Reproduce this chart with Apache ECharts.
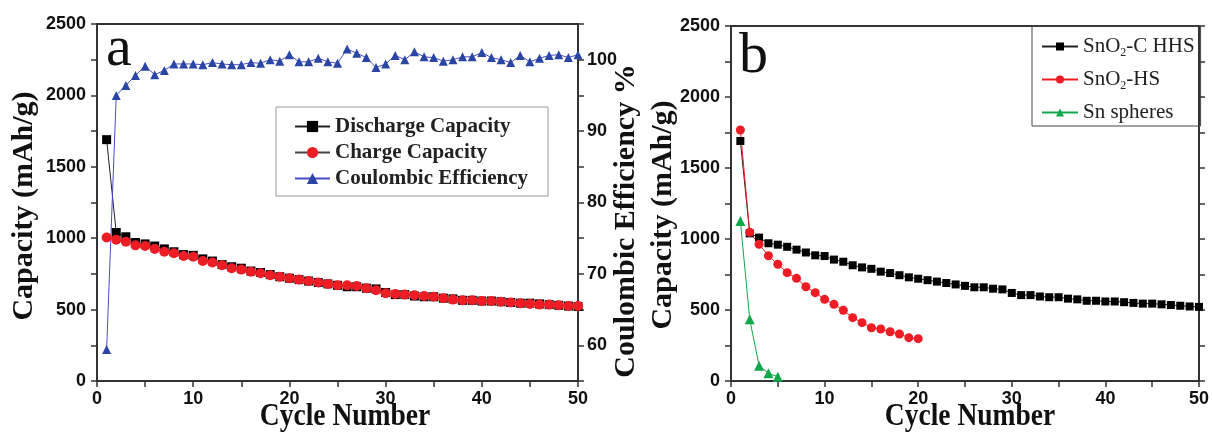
<!DOCTYPE html>
<html>
<head>
<meta charset="utf-8">
<script src="https://cdn.jsdelivr.net/npm/echarts@6/dist/echarts.min.js"></script>
<style>
  html, body { margin: 0; padding: 0; background: #fff; }
  #chart { width: 1212px; height: 433px; }
</style>
</head>
<body>
<div id="chart"></div>
<script>
// cycle index
var cycles = [1,2,3,4,5,6,7,8,9,10,11,12,13,14,15,16,17,18,19,20,21,22,23,24,25,
  26,27,28,29,30,31,32,33,34,35,36,37,38,39,40,41,42,43,44,45,46,47,48,49,50]

// panel a (and black series of panel b), mAh/g
var discharge = [1690,1040,1010,970,960,945,925,905,885,880,855,840,815,800,790,770,760,745,730,720,
  710,700,690,680,670,660,660,650,645,620,605,605,595,590,590,580,575,565,565,560,
  560,555,550,545,545,540,535,530,525,522]
var charge = [1005,990,975,950,945,925,905,895,875,870,840,830,810,790,780,765,755,740,730,720,
  710,700,690,680,670,670,665,650,635,615,610,605,600,595,590,580,570,565,565,560,
  560,555,550,545,540,535,535,530,525,525]
// coulombic efficiency, %
var efficiency = [59.4,95.0,96.4,97.8,99.1,97.9,98.5,99.4,99.4,99.4,99.3,99.6,99.4,99.3,99.3,99.6,99.5,100.0,99.8,100.7,
  99.7,99.7,100.2,99.7,99.5,101.5,100.9,100.3,98.9,99.4,100.6,100.0,101.1,100.4,100.3,99.8,100.0,100.4,100.4,101.0,
  100.3,100.0,99.6,100.6,99.7,100.2,100.6,100.7,100.3,100.7]

// panel b
var sno2HS = [1768,1047,963,882,822,763,723,664,622,575,540,498,446,411,375,366,347,331,305,298]
var snSpheres = [1127,434,108,54,30]

function pairs(vals) {
  return vals.map(function (v, i) { return [cycles[i], v] })
}

var serif = 'Liberation Serif, Times New Roman, serif'
var sans = 'Liberation Sans, Arial, sans-serif'
var axisCol = '#333'

function xAx(grid) {
  return {
    type: 'value', gridIndex: grid, min: 0, max: 50, interval: 5,
    axisLine: { onZero: false, lineStyle: { color: axisCol, width: 2 } },
    axisTick: { length: 6, lineStyle: { color: axisCol, width: 1.5 } },
    splitLine: { show: false },
    axisLabel: {
      margin: 9, color: '#111', fontFamily: sans, fontWeight: 'bold', fontSize: 18,
      formatter: function (v) { return v % 10 === 0 ? String(v) : '' }
    }
  }
}
function capAx(grid, pos, labels) {
  return {
    type: 'value', gridIndex: grid, position: pos, min: 0, max: 2500, interval: 250,
    axisLine: { show: true, lineStyle: { color: axisCol, width: 2 } },
    axisTick: { show: true, length: 6, lineStyle: { color: axisCol, width: 1.5 } },
    splitLine: { show: false },
    axisLabel: {
      show: labels, margin: 11, color: '#111', fontFamily: sans, fontWeight: 'bold', fontSize: 18,
      formatter: function (v) { return v % 500 === 0 ? String(v) : '' }
    }
  }
}

var legendRich = {
  n: { fontFamily: serif, fontSize: 21, color: '#222' },
  s: { fontFamily: serif, fontSize: 12, color: '#222', padding: [13, 0, 0, 0] }
}

var option = {
  animation: false,
  backgroundColor: '#fff',
  grid: [
    { left: 97, right: 634, top: 24, bottom: 52, show: true, borderColor: axisCol, borderWidth: 2 },
    { left: 731, right: 9, top: 26, bottom: 52, show: true, borderColor: axisCol, borderWidth: 2 }
  ],
  xAxis: [xAx(0), xAx(1)],
  yAxis: [
    capAx(0, 'left', true),
    {
      type: 'value', gridIndex: 0, position: 'right', min: 55, max: 105, interval: 5,
      axisLine: { show: true, lineStyle: { color: axisCol, width: 2 } },
      axisTick: { show: true, length: 6, lineStyle: { color: axisCol, width: 1.5 } },
      splitLine: { show: false },
      axisLabel: {
        margin: 9, color: '#111', fontFamily: sans, fontWeight: 'bold', fontSize: 18,
        formatter: function (v) { return v % 10 === 0 ? String(v) : '' }
      }
    },
    capAx(1, 'left', true),
    capAx(1, 'right', false)
  ],
  legend: [
    {
      left: 276, top: 107, orient: 'vertical', itemWidth: 35, itemHeight: 14, itemGap: 5,
      padding: [9, 20, 7, 18], borderColor: '#999', borderWidth: 1,
      textStyle: { fontFamily: serif, fontWeight: 'bold', fontSize: 21, color: '#222' },
      data: ['Discharge Capacity', 'Charge Capacity', 'Coulombic Efficiency']
    },
    {
      left: 1032, top: 26, orient: 'vertical', itemWidth: 36, itemHeight: 10, itemGap: 10,
      padding: [10, 6, 3, 9], borderColor: '#444', borderWidth: 1,
      data: ['SnO2-C HHS', 'SnO2-HS', 'Sn spheres'],
      textStyle: { rich: legendRich },
      formatter: function (name) {
        if (name.indexOf('SnO2') === 0) return '{n|SnO}{s|2}{n|' + name.slice(4) + '}'
        return '{n|' + name + '}'
      }
    }
  ],
  graphic: [
    { type: 'text', left: 106, top: 21, style: { text: 'a', font: '58px ' + serif, fill: '#111' } },
    { type: 'text', left: 739, top: 28, style: { text: 'b', font: '58px ' + serif, fill: '#111' } },
    { type: 'text', x: 345, y: 417, scaleX: 0.86,
      style: { text: 'Cycle Number', font: 'bold 32px ' + serif, fill: '#111', align: 'center', verticalAlign: 'middle' } },
    { type: 'text', x: 970, y: 417, scaleX: 0.86,
      style: { text: 'Cycle Number', font: 'bold 32px ' + serif, fill: '#111', align: 'center', verticalAlign: 'middle' } },
    { type: 'text', x: 24, y: 206, rotation: Math.PI / 2,
      style: { text: 'Capacity (mAh/g)', font: 'bold 30px ' + serif, fill: '#111', align: 'center', verticalAlign: 'middle' } },
    { type: 'text', x: 626, y: 221, rotation: Math.PI / 2,
      style: { text: 'Coulombic Efficiency %', font: 'bold 30px ' + serif, fill: '#111', align: 'center', verticalAlign: 'middle' } },
    { type: 'text', x: 663, y: 215, rotation: Math.PI / 2,
      style: { text: 'Capacity (mAh/g)', font: 'bold 30px ' + serif, fill: '#111', align: 'center', verticalAlign: 'middle' } }
  ],
  series: [
    {
      name: 'Discharge Capacity', type: 'line', xAxisIndex: 0, yAxisIndex: 0,
      data: pairs(discharge), symbol: 'rect', symbolSize: 9,
      itemStyle: { color: '#000' }, lineStyle: { color: '#222', width: 1 }
    },
    {
      name: 'Charge Capacity', type: 'line', xAxisIndex: 0, yAxisIndex: 0,
      data: pairs(charge), symbol: 'circle', symbolSize: 10,
      itemStyle: { color: '#ee1c24' }, lineStyle: { color: '#444', width: 1 }
    },
    {
      name: 'Coulombic Efficiency', type: 'line', xAxisIndex: 0, yAxisIndex: 1,
      data: pairs(efficiency), symbol: 'triangle', symbolSize: 9,
      itemStyle: { color: '#2b45a5' }, lineStyle: { color: '#4a4ac4', width: 1 }
    },
    {
      name: 'SnO2-C HHS', type: 'line', xAxisIndex: 1, yAxisIndex: 2,
      data: pairs(discharge), symbol: 'rect', symbolSize: 8,
      itemStyle: { color: '#000' }, lineStyle: { color: '#222', width: 1 }
    },
    {
      name: 'SnO2-HS', type: 'line', xAxisIndex: 1, yAxisIndex: 2,
      data: pairs(sno2HS), symbol: 'circle', symbolSize: 9,
      itemStyle: { color: '#ee1c24' }, lineStyle: { color: '#ee1c24', width: 1 }
    },
    {
      name: 'Sn spheres', type: 'line', xAxisIndex: 1, yAxisIndex: 2,
      data: pairs(snSpheres), symbol: 'triangle', symbolSize: 10,
      itemStyle: { color: '#10a84a' }, lineStyle: { color: '#10a84a', width: 1 }
    }
  ]
}

var myChart = echarts.init(document.getElementById('chart'))
myChart.setOption(option)
window.onresize = function () { myChart.resize() }
</script>
</body>
</html>
